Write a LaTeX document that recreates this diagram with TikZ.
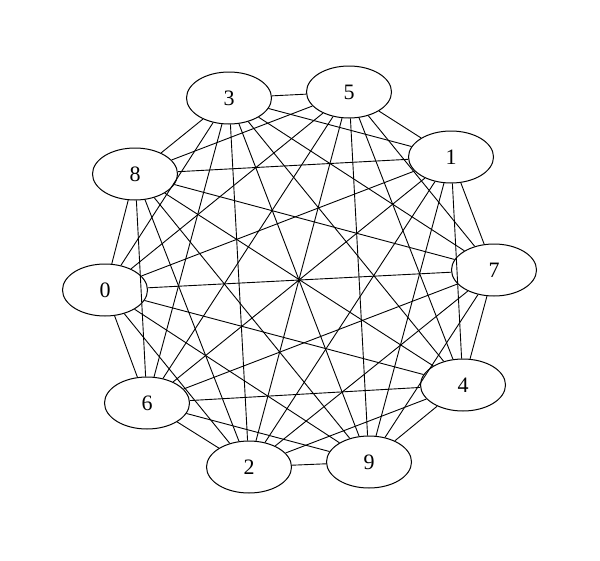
\documentclass[tikz,border=0pt]{standalone}
\usepackage{fontspec}
\setmainfont{Liberation Serif}
\usetikzlibrary{shapes.geometric}
\begin{document}
\begin{tikzpicture}[x=1pt,y=-1pt,
  vtx/.style={draw,ellipse,line width=1pt,minimum width=85pt,minimum height=52pt,inner sep=0pt,font=\fontsize{22}{22}\selectfont},
  edge/.style={line width=0.9pt}]
\useasboundingbox (0,0) rectangle (600,560);
\node[vtx] (n3) at (229,98) {3};
\node[vtx] (n5) at (349,92) {5};
\node[vtx] (n1) at (451,157) {1};
\node[vtx] (n8) at (135,174) {8};
\node[vtx] (n7) at (494,270) {7};
\node[vtx] (n0) at (105,290) {0};
\node[vtx] (n4) at (463,385) {4};
\node[vtx] (n6) at (147,403) {6};
\node[vtx] (n2) at (249,467) {2};
\node[vtx] (n9) at (369,462) {9};
\foreach \a/\b in {3/5,3/1,3/8,3/7,3/0,3/4,3/6,3/2,3/9,
  5/1,5/8,5/7,5/0,5/4,5/6,5/2,5/9,
  1/8,1/7,1/0,1/4,1/6,1/2,1/9,
  8/7,8/0,8/4,8/6,8/2,8/9,
  7/0,7/4,7/6,7/2,7/9,
  0/4,0/6,0/2,0/9,
  4/6,4/2,4/9,
  6/2,6/9,
  2/9}
  \draw[edge] (n\a) -- (n\b);
\end{tikzpicture}
\end{document}
